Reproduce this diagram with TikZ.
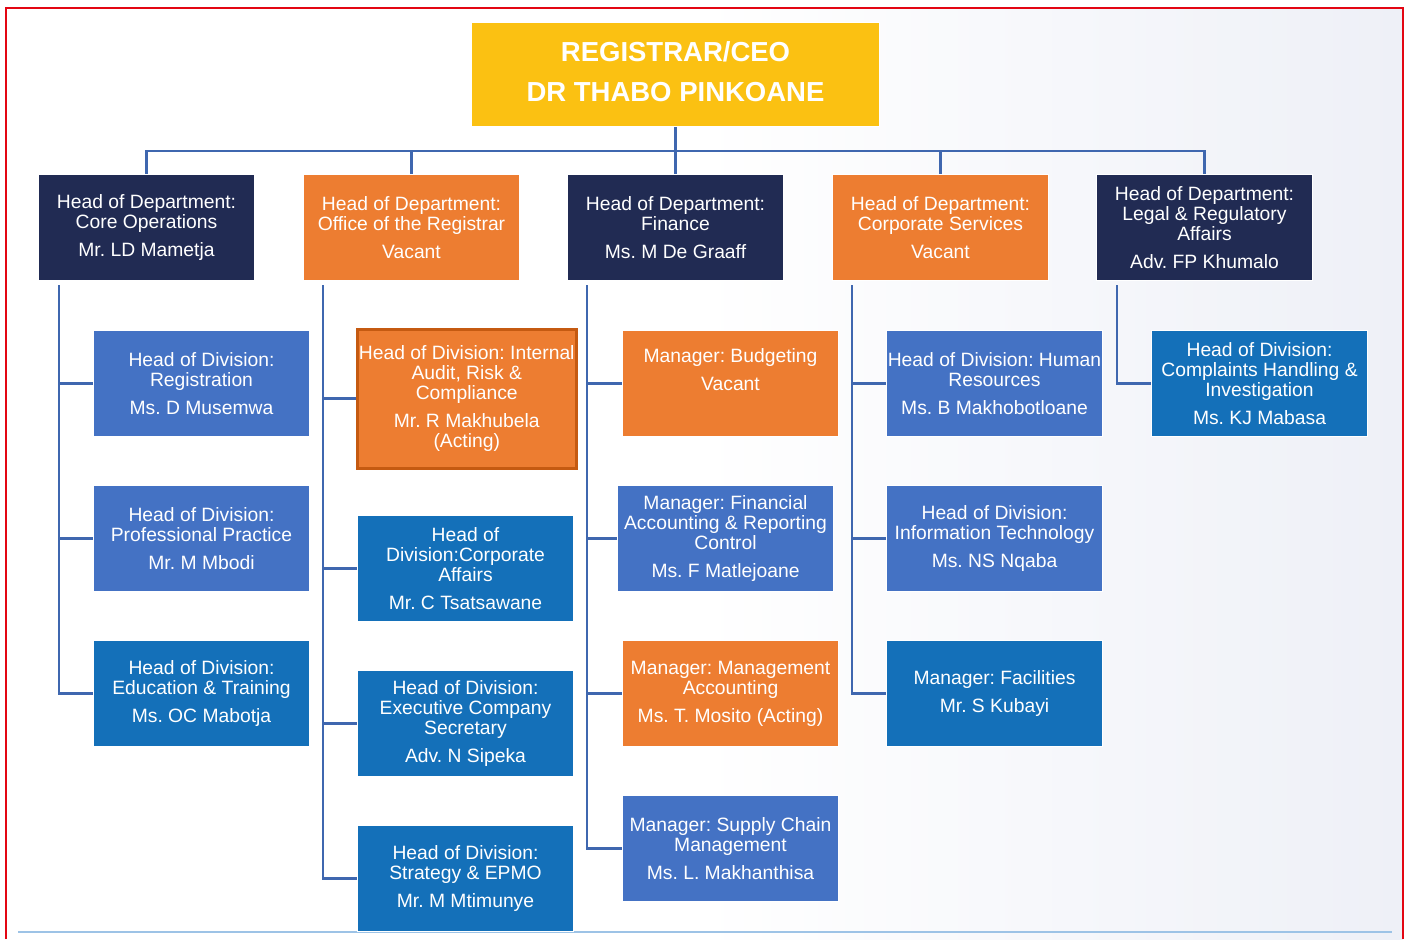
\documentclass[tikz,border=0pt]{standalone}
\usepackage{fontspec}
\setmainfont{Liberation Sans}
\frenchspacing
\definecolor{navy}{RGB}{33,43,83}
\definecolor{orng}{RGB}{237,125,49}
\definecolor{medblue}{RGB}{68,114,196}
\definecolor{dkblue}{RGB}{20,112,185}
\definecolor{ceoyel}{RGB}{251,193,18}
\definecolor{conncol}{RGB}{63,103,175}
\definecolor{brownedge}{RGB}{197,90,17}
\definecolor{redline}{RGB}{227,6,19}
\definecolor{ltblue}{RGB}{157,195,230}
\definecolor{bggray}{RGB}{238,240,247}
\tikzset{
  orgbox/.style={draw=white, line width=1pt, text=white, align=center, inner sep=0pt,
    anchor=north west, minimum width=216, minimum height=106,
    font=\fontsize{19.3}{20}\selectfont\frenchspacing},
  navybox/.style={orgbox, fill=navy},
  orbox/.style={orgbox, fill=orng},
  mbbox/.style={orgbox, fill=medblue},
  dbbox/.style={orgbox, fill=dkblue},
  conn/.style={draw=conncol, line width=2.6pt},
}
\begin{document}
\begin{tikzpicture}[x=1pt,y=-1pt]
\useasboundingbox (0,0) rectangle (1412,939);
\fill[white] (0,0) rectangle (1412,939);
\shade[left color=white, right color=bggray, shading angle=90] (700,8) rectangle (1403,939);
% frame
\draw[redline, line width=2pt] (6,939) -- (6,8) -- (1403,8) -- (1403,939);
\draw[ltblue, line width=1.5pt] (18,932) -- (1392,932);

% CEO
\node[anchor=north west, fill=ceoyel, draw=white, line width=1pt, minimum width=408, minimum height=104,
  inner sep=0pt, text=white, font=\fontsize{27.5}{40}\selectfont\bfseries]
  (ceo) at (471,22) {\parbox{400pt}{\centering REGISTRAR/CEO\\DR THABO PINKOANE\par\vspace{6pt}}};

% departments
\node[navybox] (d1) at (38,174) {Head of Department:\\Core Operations\\[8pt]Mr. LD Mametja};
\node[orbox] (d2) at (303,174) {Head of Department:\\Office of the Registrar\\[8pt]Vacant};
\node[navybox] (d3) at (567,174) {Head of Department:\\Finance\\[8pt]Ms. M De Graaff};
\node[orbox] (d4) at (832,174) {Head of Department:\\Corporate Services\\[8pt]Vacant};
\node[navybox] (d5) at (1096,174) {Head of Department:\\Legal \& Regulatory\\Affairs\\[8pt]Adv. FP Khumalo};

% column 1
\node[mbbox] (c1a) at (93,330) {Head of Division:\\Registration\\[8pt]Ms. D Musemwa};
\node[mbbox] (c1b) at (93,485) {Head of Division:\\Professional Practice\\[8pt]Mr. M Mbodi};
\node[dbbox] (c1c) at (93,640) {Head of Division:\\Education \& Training\\[8pt]Ms. OC Mabotja};

% column 2
\node[orbox, draw=brownedge, line width=2.5pt, minimum width=219, minimum height=139] (c2a) at (356,328)
  {Head of Division: Internal\\Audit, Risk \&\\Compliance\\[8pt]Mr. R Makhubela\\(Acting)};
\node[dbbox] (c2b) at (357,515) {Head of\\Division:Corporate\\Affairs\\[8pt]Mr. C Tsatsawane};
\node[dbbox] (c2c) at (357,670) {Head of Division:\\Executive Company\\Secretary\\[8pt]Adv. N Sipeka};
\node[dbbox] (c2d) at (357,825) {Head of Division:\\Strategy \& EPMO\\[8pt]Mr. M Mtimunye};

% column 3
\node[orbox] (c3a) at (622,330) {Manager: Budgeting\\[8pt]Vacant\\[8pt]\mbox{}};
\node[mbbox] (c3b) at (617,485) {Manager: Financial\\Accounting \& Reporting\\Control\\[8pt]Ms. F Matlejoane};
\node[orbox] (c3c) at (622,640) {Manager: Management\\Accounting\\[8pt]Ms. T. Mosito (Acting)};
\node[mbbox] (c3d) at (622,795) {Manager: Supply Chain\\Management\\[8pt]Ms. L. Makhanthisa};

% column 4
\node[mbbox] (c4a) at (886,330) {Head of Division: Human\\Resources\\[8pt]Ms. B Makhobotloane};
\node[mbbox] (c4b) at (886,485) {Head of Division:\\Information Technology\\[8pt]Ms. NS Nqaba};
\node[dbbox] (c4c) at (886,640) {Manager: Facilities\\[8pt]Mr. S Kubayi};

% column 5
\node[dbbox] (c5a) at (1151,330) {Head of Division:\\Complaints Handling \&\\Investigation\\[8pt]Ms. KJ Mabasa};

% connectors: CEO to departments
\foreach \d in {d1,d2,d3,d4,d5}
  \draw[conn] (ceo.south) -- ++(0,24) -| (\d.north);

% connectors: departments to divisions
\foreach \c in {c1a,c1b,c1c}
  \draw[conn] ([xshift=21pt,yshift=-4pt]d1.south west) |- (\c.west);
\foreach \c in {c2a,c2b,c2c,c2d}
  \draw[conn] ([xshift=20pt,yshift=-4pt]d2.south west) |- (\c.west);
\foreach \c in {c3a,c3b,c3c,c3d}
  \draw[conn] ([xshift=20pt,yshift=-4pt]d3.south west) |- (\c.west);
\foreach \c in {c4a,c4b,c4c}
  \draw[conn] ([xshift=20pt,yshift=-4pt]d4.south west) |- (\c.west);
\draw[conn] ([xshift=21pt,yshift=-4pt]d5.south west) |- (c5a.west);
\end{tikzpicture}
\end{document}
